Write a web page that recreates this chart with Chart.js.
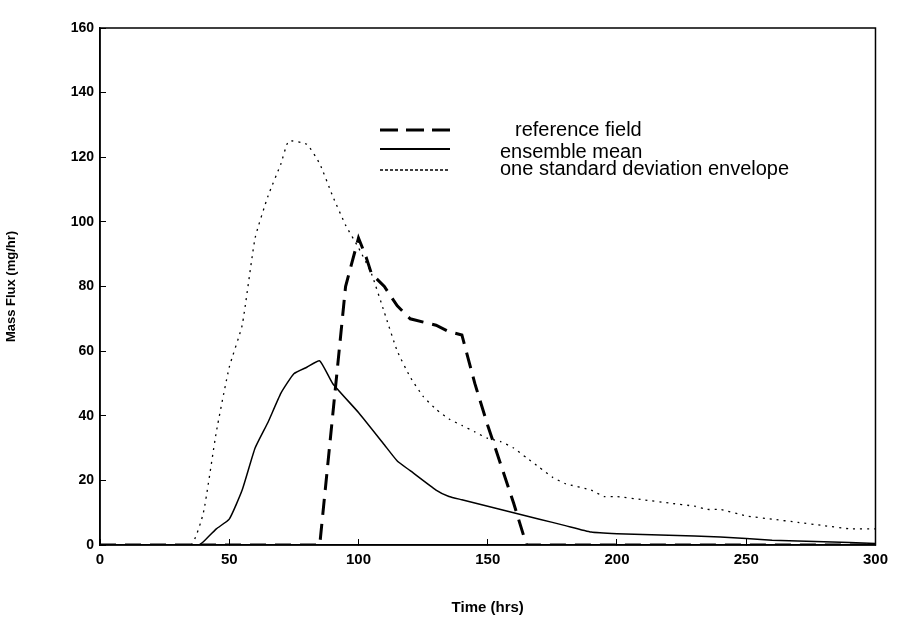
<!DOCTYPE html>
<html><head><script src="https://cdn.jsdelivr.net/npm/chart.js@4"></script>
<style>body{margin:0;background:#fff}#w{width:900px;height:627px}</style></head>
<body><div id="w"><canvas id="c"></canvas></div>
<script>
const refX=[0,85,90,95,100,103,105,110,115,120,130,135,140,145,150,155,160,165,300];
const refY=[0,0,40,80,95,89,84,80,74,70,68,66,65,50,37,25,13,0,0];
const meanX=[0,38,40,45,50,55,60,65,70,75,80,85,90,100,110,115,120,130,135,140,150,160,170,180,190,200,220,240,260,280,300];
const meanY=[0,0,1,5,8,17,30,38,47,53,55,57,50,41,31,26,23,17,15,14,12,10,8,6,4,3.5,3,2.5,1.5,1,0.5];
const envX=[0,35,40,45,50,55,60,65,70,73,80,85,90,95,100,105,110,115,120,125,130,135,140,145,150,155,160,165,170,175,180,190,195,200,210,220,230,235,240,250,260,270,280,290,300];
const envY=[0,0,10,35,55,68,95,108,118,125,124,118,108,99,92,84,72,60,52,46,42,39,37,35,33,32,30,27,24,21,19,17,15,15,14,13,12,11,11,9,8,7,6,5,5];
const labels=['reference field','ensemble mean','one standard deviation envelope'];
const xTicks=[0,50,100,150,200,250,300], yTicks=[0,20,40,60,80,100,120,140,160];
const pts=(xs,ys)=>xs.map((x,i)=>({x,y:ys[i]}));
const legendPlugin={id:'lg',afterDraw(ch){const c=ch.ctx;c.save();
 const items=[[[18,8],3,'reference field',380,130,515,0],[[],2,'ensemble mean',380,149,500,3],[[3,2],1.5,'one standard deviation envelope',380,170,500,-1]];
 c.font='20px "Liberation Sans"';c.fillStyle='#000';c.textBaseline='middle';
 items.forEach(([d,w,t,x,y,tx,dy])=>{c.setLineDash(d);c.lineWidth=w;c.strokeStyle='#000';c.beginPath();c.moveTo(x,y);c.lineTo(x+70,y);c.stroke();c.setLineDash([]);c.fillText(t,tx,y+dy);});
 const a=ch.chartArea;c.lineWidth=1.5;c.strokeRect(a.left,a.top,a.right-a.left,a.bottom-a.top);c.restore();}};
new Chart(document.getElementById('c'),{type:'line',
data:{datasets:[
 {label:labels[0],data:pts(refX,refY),borderColor:'#000',borderWidth:3,borderDash:[16,9],pointRadius:0,tension:0},
 {label:labels[1],data:pts(meanX,meanY),borderColor:'#000',borderWidth:1.5,pointRadius:0,tension:0.15},
 {label:labels[2],data:pts(envX,envY),borderColor:'#000',borderWidth:1.3,borderDash:[2,5],pointRadius:0,tension:0.15}]},
options:{animation:false,responsive:true,maintainAspectRatio:false,
 layout:{padding:{top:28,right:22,left:0,bottom:0}},
 plugins:{legend:{display:false},tooltip:{enabled:false}},
 scales:{
  x:{type:'linear',min:0,max:300,afterBuildTicks:s=>{s.ticks=xTicks.map(v=>({value:v}))},
   grid:{display:true,drawOnChartArea:false,tickLength:-6,color:'#000'},border:{color:'#000',width:1.5},
   ticks:{color:'#000',font:{family:'Liberation Sans',size:15,weight:'bold'},padding:12},
   title:{display:true,text:'Time (hrs)',color:'#000',font:{family:'Liberation Sans',size:15,weight:'bold'},padding:{top:18,bottom:10}}},
  y:{min:0,max:160,afterBuildTicks:s=>{s.ticks=yTicks.map(v=>({value:v}))},afterFit:s=>{s.width=100},
   grid:{display:true,drawOnChartArea:false,tickLength:-6,color:'#000'},border:{color:'#000',width:1.5},
   ticks:{color:'#000',font:{family:'Liberation Sans',size:14,weight:'bold'},padding:12},
   title:{display:true,text:'Mass Flux (mg/hr)',color:'#000',font:{family:'Liberation Sans',size:13,weight:'bold'},padding:{bottom:16}}}}},
plugins:[legendPlugin]});
</script></body></html>
